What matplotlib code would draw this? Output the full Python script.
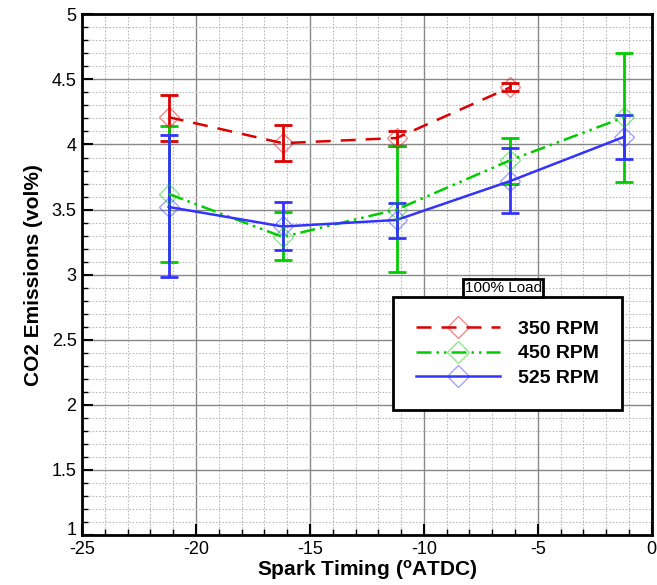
import numpy as np
import matplotlib
matplotlib.use("Agg")
import matplotlib.pyplot as plt
from matplotlib.lines import Line2D

plt.rcParams['font.family'] = ['Liberation Sans', 'DejaVu Sans']
plt.rcParams['axes.unicode_minus'] = False

# spark timing (deg ATDC)
x_350 = [-21.2, -16.2, -11.2, -6.2]
x_450 = [-21.2, -16.2, -11.2, -6.2, -1.2]
x_525 = [-21.2, -16.2, -11.2, -6.2, -1.2]

# CO2 (vol%) with error bar limits
y_350 = [4.21, 4.01, 4.05, 4.44]
lo_350 = [4.03, 3.87, 3.99, 4.41]
hi_350 = [4.38, 4.15, 4.10, 4.47]

y_450 = [3.62, 3.29, 3.50, 3.88, 4.21]
lo_450 = [3.10, 3.11, 3.02, 3.70, 3.71]
hi_450 = [4.14, 3.48, 3.99, 4.05, 4.70]

y_525 = [3.52, 3.37, 3.42, 3.72, 4.06]
lo_525 = [2.98, 3.19, 3.28, 3.47, 3.89]
hi_525 = [4.07, 3.56, 3.55, 3.97, 4.23]

labels = ['350 RPM', '450 RPM', '525 RPM']
colors = ['#dd0000', '#00cc00', '#3333ff']
dash_styles = [(0, (6, 4)), (0, (6, 2, 1, 2, 1, 2)), '-']

fig = plt.figure(figsize=(6.57, 5.85), dpi=100)
ax = fig.add_axes([0.125, 0.0855, 0.867, 0.89])

series = [(x_350, y_350, lo_350, hi_350),
          (x_450, y_450, lo_450, hi_450),
          (x_525, y_525, lo_525, hi_525)]

handles = []
for (xs, ys, lo, hi), c, ls, lab in zip(series, colors, dash_styles, labels):
    ys = np.array(ys)
    err = [ys - np.array(lo), np.array(hi) - ys]
    ax.errorbar(xs, ys, yerr=err, fmt='none', ecolor=c, elinewidth=2,
                capsize=6.5, capthick=2, zorder=4)
    ax.plot(xs, ys, color=c, linestyle=ls, linewidth=1.8, zorder=5)
    ax.plot(xs, ys, linestyle='none', marker='D', markersize=10,
            markerfacecolor='none', markeredgecolor=c, markeredgewidth=1,
            alpha=0.45, zorder=6)
    handles.append(Line2D([], [], color=c, linestyle=ls, linewidth=1.8,
                          marker='D', markersize=11, markerfacecolor='none',
                          markeredgecolor=matplotlib.colors.to_rgba(c, 0.45),
                          markeredgewidth=1))

ax.set_xlim(-25, 0)
ax.set_ylim(1, 5)
ax.set_xticks(np.arange(-25, 1, 5))
ax.set_xticks(np.arange(-25, 1, 1), minor=True)
ax.set_yticks(np.arange(1, 5.01, 0.5))
ax.set_yticks(np.arange(1, 5.01, 0.1), minor=True)
ax.set_yticklabels(['1', '1.5', '2', '2.5', '3', '3.5', '4', '4.5', '5'])

ax.grid(which='major', color='#888888', linewidth=1, linestyle='-')
ax.grid(which='minor', color='#bbbbbb', linewidth=0.8, linestyle=(0, (1.5, 1.5)))
ax.set_axisbelow(True)

ax.tick_params(which='major', direction='in', length=8, width=1.5,
               labelsize=13, pad=4)
ax.tick_params(which='minor', direction='in', length=4, width=1)
for s in ax.spines.values():
    s.set_linewidth(2)
# the "1" sits just above the corner, clear of "-25"
ax.get_yticklabels()[0].set_va('baseline')

ax.set_xlabel('Spark Timing ($\\mathregular{^o}$ATDC)', fontsize=15,
              fontweight='bold', labelpad=0)
ax.set_ylabel('CO2 Emissions (vol%)', fontsize=15, fontweight='bold',
              labelpad=6)

leg = ax.legend(handles, labels, loc='upper left',
                bbox_to_anchor=(0.546, 0.457),
                prop={'weight': 'bold', 'size': 14},
                handlelength=4.3, handletextpad=0.9, labelspacing=0.35,
                borderpad=1.2, borderaxespad=0, fancybox=False,
                framealpha=1, edgecolor='black')
leg.get_frame().set_linewidth(2)
leg.set_zorder(10)

ax.text(0.739, 0.474, '100% Load', transform=ax.transAxes, fontsize=11,
        ha='center', va='center', zorder=11,
        bbox=dict(boxstyle='square,pad=0.12', facecolor='white',
                  edgecolor='black', linewidth=2))

fig.savefig('out.png', dpi=100)
